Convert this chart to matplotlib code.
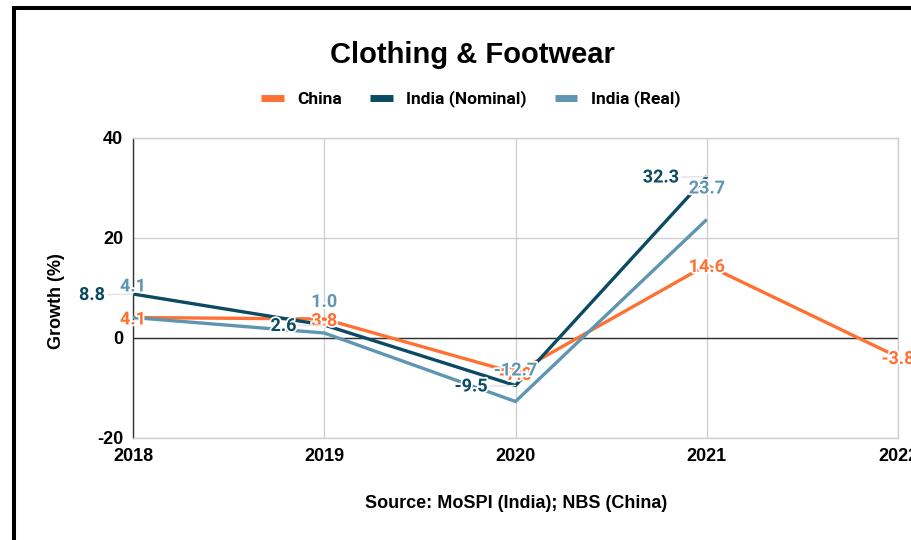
import matplotlib
matplotlib.use("Agg")
import matplotlib.pyplot as plt
from matplotlib.lines import Line2D
import matplotlib.patheffects as pe

# Growth in clothing & footwear spending (%)
years = [2018, 2019, 2020, 2021, 2022]
china = [4.1, 3.8, -7.0, 14.6, -3.8]
india_nominal = [8.8, 2.6, -9.5, 32.3]
india_real = [4.1, 1.0, -12.7, 23.7]
series_names = ["China", "India (Nominal)", "India (Real)"]
y_ticks = [-20, 0, 20, 40]

ORANGE = "#FF7133"
NAVY = "#0B4A63"
STEEL = "#5E95B3"

W, H = 912, 540
fig = plt.figure(figsize=(W / 100, H / 100), dpi=100)
ax = fig.add_axes([133 / W, 102 / H, 765 / W, 300 / H])

label_font = dict(family="Roboto", fontweight="bold", fontsize=13)
axis_font = dict(family="Liberation Sans", fontweight="bold")
halo = [pe.withStroke(linewidth=2.5, foreground="white")]

l_china, = ax.plot(years, china, color=ORANGE, lw=2.4, zorder=3,
                   solid_capstyle="butt", label=series_names[0])
l_nom, = ax.plot(years[:len(india_nominal)], india_nominal, color=NAVY, lw=2.4,
                 zorder=3, solid_capstyle="butt", label=series_names[1])
l_real, = ax.plot(years[:len(india_real)], india_real, color=STEEL, lw=2.4,
                  zorder=3, solid_capstyle="butt", label=series_names[2])

# value labels
for x, v in zip(years, china):
    ax.annotate(f"{v:.1f}", (x, v), xytext=(0, -2), textcoords="offset pixels",
                ha="center", va="center", color=ORANGE,
                zorder=5, path_effects=halo, annotation_clip=False, **label_font)
for x, v in zip(years, india_nominal):
    ax.annotate(f"{v:.1f}", (x, v), xytext=(-28, -1), textcoords="offset pixels",
                ha="right", va="center", color=NAVY, zorder=5, path_effects=halo,
                arrowprops=dict(arrowstyle="-", color="#e2e2e2", lw=1,
                                shrinkA=0, shrinkB=0),
                annotation_clip=False, **label_font)
for x, v in zip(years, india_real):
    ax.annotate(f"{v:.1f}", (x, v), xytext=(0, 31), textcoords="offset pixels",
                ha="center", va="center", color=STEEL, zorder=6, path_effects=halo,
                annotation_clip=False, **label_font)

ax.set_xlim(2018, 2022)
ax.set_ylim(-20, 40)
ax.set_xticks(years)
ax.set_yticks(y_ticks)
ax.set_xticklabels([str(y) for y in years], fontsize=13, **axis_font)
ax.set_yticklabels([str(t) for t in y_ticks], fontsize=13, **axis_font)
ax.tick_params(length=0, pad=7)
ax.tick_params(axis="x", pad=7)

ax.grid(True, color="#cfcfcf", lw=1)
ax.set_axisbelow(True)
ax.axhline(0, color="#333333", lw=1, zorder=2)
for side in ["top", "right", "bottom"]:
    ax.spines[side].set_color("#cfcfcf")
    ax.spines[side].set_linewidth(1)
ax.spines["left"].set_color("#333333")
ax.spines["left"].set_linewidth(1)

fig.text(57 / W, 1 - 301 / H, "Growth (%)", rotation=90, ha="center", va="center",
         fontsize=13, **axis_font)
fig.text(472 / W, 1 - 55 / H, "Clothing & Footwear", ha="center", va="center",
         fontsize=21, **axis_font)
fig.text(516 / W, 1 - 504 / H, "Source: MoSPI (India); NBS (China)", ha="center",
         va="center", fontsize=13, **axis_font)

leg = fig.legend(handles=[l_china, l_nom, l_real], loc="center",
                 bbox_to_anchor=(471 / W, 1 - 99 / H), ncol=3, frameon=False,
                 handlelength=1.3, handletextpad=0.8, columnspacing=1.6,
                 prop=dict(family="Roboto", weight="bold", size=12.5))
for h in leg.legend_handles:
    h.set_linewidth(5)

# frame
fig.add_artist(Line2D([14 / W, 14 / W], [-0.05, 1 - 8 / H], color="black", lw=2.9,
                      transform=fig.transFigure, solid_capstyle="projecting"))
fig.add_artist(Line2D([14 / W, 1.05], [1 - 8 / H, 1 - 8 / H], color="black", lw=2.9,
                      transform=fig.transFigure, solid_capstyle="projecting"))

fig.savefig("out.png", dpi=100, facecolor="white")
